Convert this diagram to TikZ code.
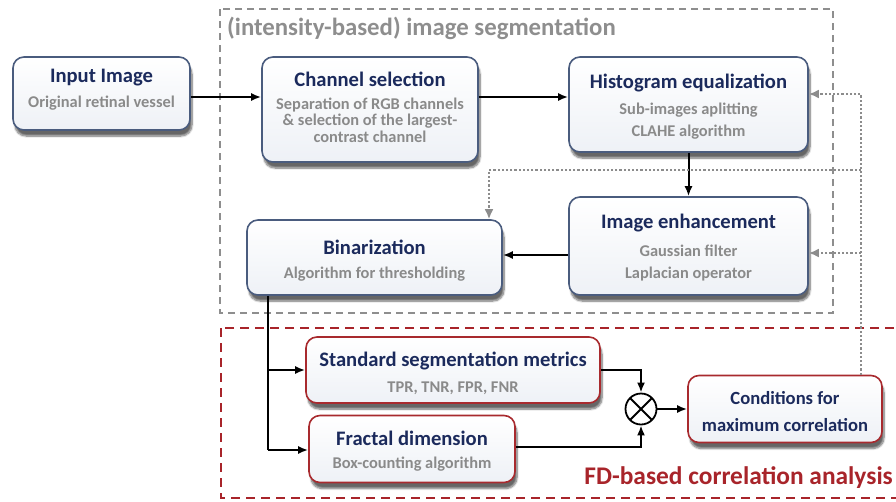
\documentclass[tikz,border=0pt]{standalone}
\usepackage{fontspec}
\setmainfont{Carlito}
\usetikzlibrary{arrows.meta,shadows.blur,calc}
\definecolor{navy}{HTML}{1B2A5C}
\definecolor{subgray}{HTML}{8A8A8A}
\definecolor{boxblue}{HTML}{4A5C7E}
\definecolor{boxred}{HTML}{A82A2E}
\definecolor{framegray}{HTML}{8E8E8E}
\definecolor{framered}{HTML}{A8242A}
\definecolor{fbgray}{HTML}{8C8C8C}
\definecolor{cardbottom}{HTML}{EEF1F6}

\tikzset{
  card/.style={draw=boxblue, line width=1.6pt, rounded corners=11pt,
    top color=white, bottom color=cardbottom, inner sep=0pt,
    blur shadow={shadow xshift=2pt, shadow yshift=-6pt, shadow opacity=60, shadow blur steps=8}},
  redcard/.style={card, draw=boxred},
  head/.style={font=\bfseries\fontsize{20.6}{23}\selectfont, text=navy, inner sep=0pt},
  sub/.style={font=\bfseries\fontsize{16.4}{18}\selectfont, text=subgray, inner sep=0pt},
  flow/.style={line width=2pt, -{Latex[length=10pt,width=8pt]}},
  feedback/.style={line width=2.5pt, fbgray, dash pattern=on 2.2pt off 2pt,
    -{Latex[length=10pt,width=9pt]}},
  grayframe/.style={draw=framegray, line width=1.6pt, dash pattern=on 7pt off 5pt},
  redframe/.style={draw=framered, line width=1.9pt, dash pattern=on 9pt off 6pt},
}

\begin{document}
\begin{tikzpicture}[x=1pt,y=-1pt]
\useasboundingbox (0,0) rectangle (896,501);

% group frames
\draw[grayframe] (220,9) rectangle (833,313);
\node[anchor=west, font=\bfseries\fontsize{24.8}{27}\selectfont, text=framegray, inner sep=0pt]
  (segtitle) at (227,28) {(intensity-based) image segmentation};
\draw[redframe] (221,328) rectangle (905,498);
\node[anchor=east, font=\bfseries\fontsize{25.4}{28}\selectfont, text=framered, inner sep=0pt]
  (fdtitle) at (893,478) {FD-based correlation analysis};

% processing cards
\node[card, minimum width=177pt, minimum height=73pt] (inp) at (101.5,93.5) {};
\node[head] (inpH) at (101.5,78) {Input Image};
\node[sub]  (inpS) at (101.5,103) {Original retinal vessel};

\node[card, minimum width=216pt, minimum height=105pt] (chan) at (370,109.5) {};
\node[head] (chanH) at (370,79) {Channel selection};
\node[sub]  (chanS1) at (370,105) {Separation of RGB channels};
\node[sub]  (chanS2) at (370,121) {\& selection of the largest-};
\node[sub]  (chanS3) at (370,137) {contrast channel};

\node[card, minimum width=239pt, minimum height=95pt] (hist) at (688.5,104.5) {};
\node[head] (histH) at (688.5,83) {Histogram equalization};
\node[sub]  (histS1) at (688.5,110) {Sub-images aplitting};
\node[sub]  (histS2) at (688.5,132) {CLAHE algorithm};

\node[card, minimum width=239pt, minimum height=98pt] (enh) at (688.5,246) {};
\node[head] (enhH) at (688.5,223) {Image enhancement};
\node[sub]  (enhS1) at (688.5,251) {Gaussian filter};
\node[sub]  (enhS2) at (688.5,274) {Laplacian operator};

\node[card, minimum width=255pt, minimum height=75pt] (bin) at (374.5,257.5) {};
\node[head] (binH) at (374.5,247) {Binarization};
\node[sub]  (binS) at (374.5,274) {Algorithm for thresholding};

% analysis cards
\node[redcard, minimum width=294pt, minimum height=66pt] (ssm) at (453,370) {};
\node[head] (ssmH) at (453,361) {Standard segmentation metrics};
\node[sub]  (ssmS) at (453,388) {TPR, TNR, FPR, FNR};

\node[redcard, minimum width=206pt, minimum height=67pt] (fd) at (412,449) {};
\node[head] (fdH) at (412,438) {Fractal dimension};
\node[sub]  (fdS) at (412,464) {Box-counting algorithm};

\node[redcard, minimum width=194pt, minimum height=67pt] (cond) at (785,409) {};
\node[head, font=\bfseries\fontsize{18.6}{20}\selectfont] (condH1) at (785,398) {Conditions for};
\node[head, font=\bfseries\fontsize{18.6}{20}\selectfont] (condH2) at (785,425) {maximum correlation};

% product junction
\node[circle, draw, line width=1.8pt, minimum size=31pt, inner sep=0pt,
  path picture={\draw[line width=1.8pt] (path picture bounding box.north west) -- (path picture bounding box.south east)
   (path picture bounding box.north east) -- (path picture bounding box.south west);}] (ot) at (641,409) {};

% main flow
\draw[flow] (inp.east |- 0,97) -- (chan.west |- 0,97);
\draw[flow] (chan.east |- 0,97) -- (hist.west |- 0,97);
\draw[flow] (hist.south) -- (enh.north);
\draw[flow] (enh.west |- 0,255) -- (bin.east |- 0,255);

\coordinate (split1) at (268,370);
\coordinate (split2) at (268,450);
\draw[line width=2pt] (bin.south -| split1) -- (split2);
\draw[flow] (split1) -- (ssm.west |- split1);
\draw[flow] (split2) -- (fd.west |- split2);
\draw[flow] (ssm.east) -| (ot.north);
\draw[flow] (fd.east |- 0,447) -| (ot.south);
\draw[flow] (ot.east) -- (cond.west |- ot.east);

% feedback from the correlation conditions
\coordinate (fbTop) at (861,94);
\coordinate (fbMid) at (861,170);
\coordinate (fbEnh) at (861,253);
\coordinate (fbCorner) at (489,170);
\draw[feedback] (cond.north -| fbTop) -- (fbTop) -- (hist.east |- fbTop);
\draw[feedback] (fbMid) -- (fbCorner) -- (bin.north -| fbCorner);
\draw[feedback] (fbEnh) -- (enh.east |- fbEnh);
\end{tikzpicture}
\end{document}
